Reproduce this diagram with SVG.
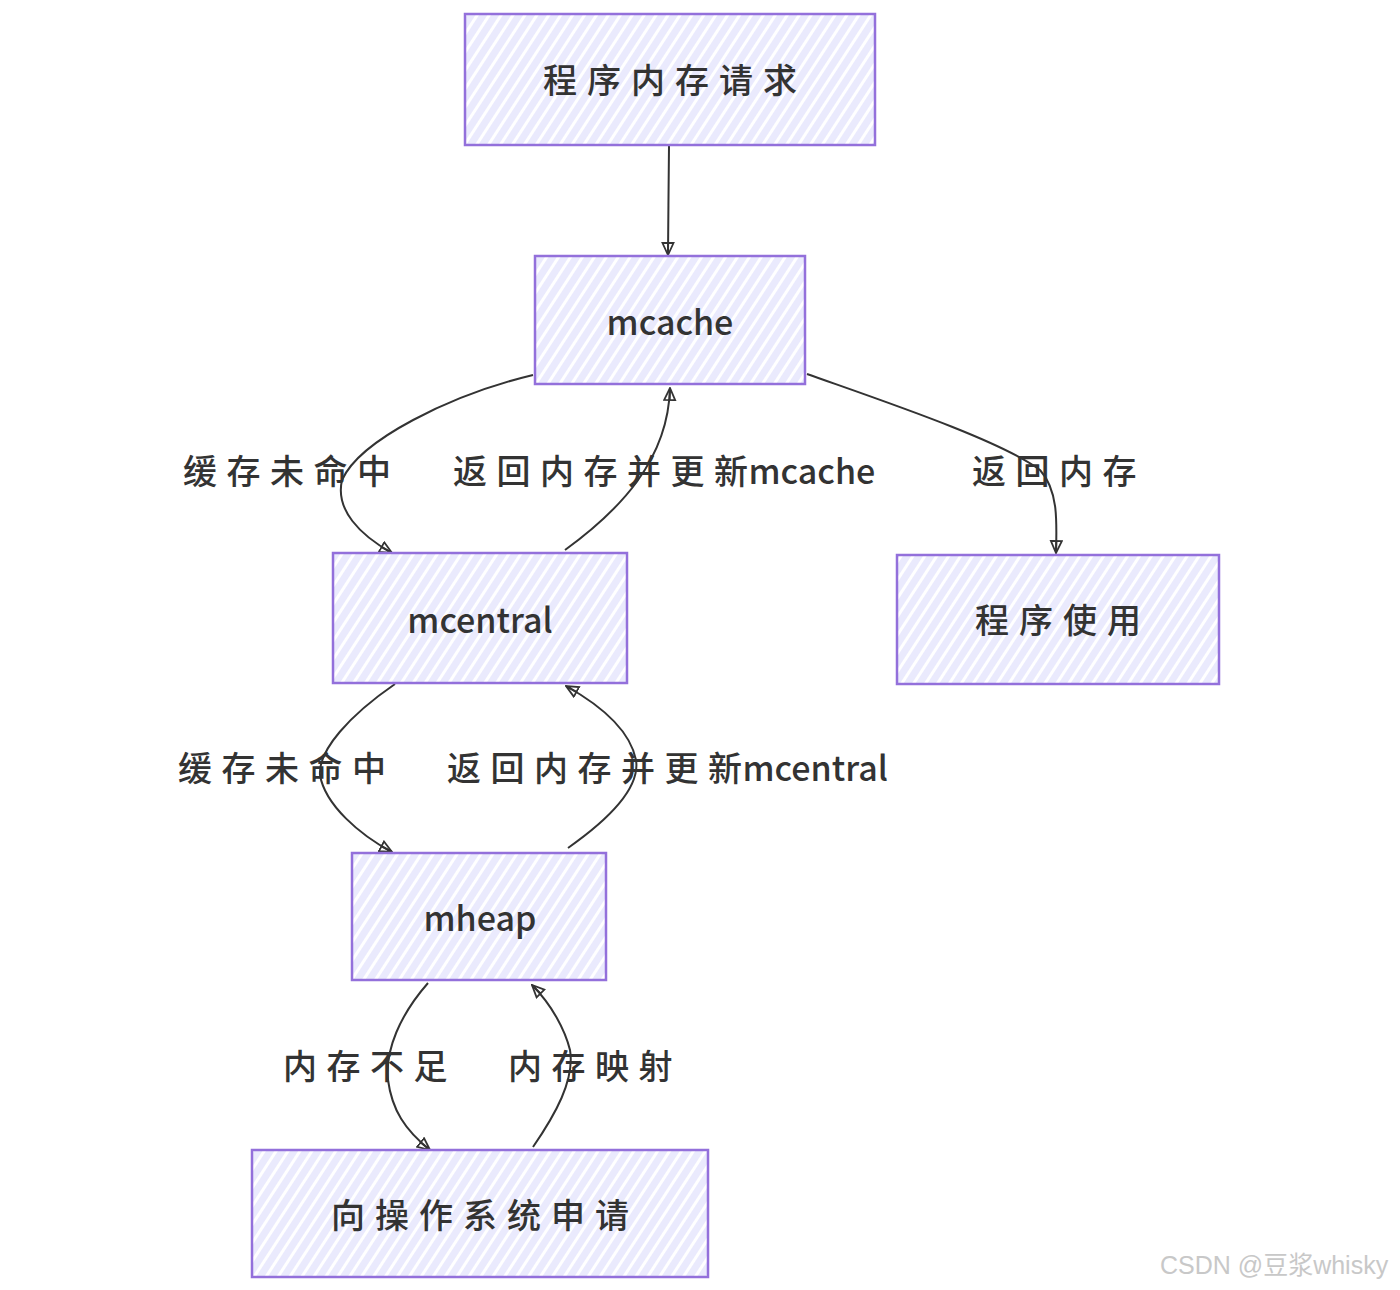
<svg xmlns="http://www.w3.org/2000/svg" width="1400" height="1290" viewBox="0 0 1400 1290">
<defs>
<pattern id="hatch" patternUnits="userSpaceOnUse" width="10" height="10" patternTransform="rotate(-57)">
<rect width="10" height="10" fill="#ffffff"/>
<rect width="10" height="7" fill="#EAEAFD"/>
</pattern>
<marker id="arr" viewBox="0 0 14 14" refX="13" refY="7" markerWidth="14" markerHeight="14" markerUnits="userSpaceOnUse" orient="auto">
<path d="M1,1.5 L13,7 L1,12.5 Z M1,7 L13,7" fill="none" stroke="#333" stroke-width="1.8"/>
</marker>
<style>
.box{fill:url(#hatch);stroke:#9370DB;stroke-width:2.5}
.nt{font-family:"Noto Sans CJK SC","Noto Sans",sans-serif;font-size:34px;font-weight:500;fill:#333;text-anchor:middle;dominant-baseline:central}
.zh{letter-spacing:10px}
.lb{font-family:"Noto Sans CJK SC","Noto Sans",sans-serif;font-size:34px;font-weight:500;fill:#333;dominant-baseline:central}
.lz{letter-spacing:9.5px}
.edge{fill:none;stroke:#333;stroke-width:2;marker-end:url(#arr)}
</style>
</defs>
<rect width="1400" height="1290" fill="#ffffff"/>
<g id="connectors">
<path class="edge" d="M669,146 C669,180 668,220 668,255"/>
<path class="edge" d="M533,375 C450,395 360,440 342,480 C335,510 360,535 392,553"/>
<path class="edge" d="M565,550 C620,510 668,460 670,388"/>
<path class="edge" d="M807,374 C880,400 1000,440 1040,470 C1058,490 1057,520 1056,553"/>
<path class="edge" d="M395,684 C350,715 318,750 320,775 C325,805 360,835 392,852"/>
<path class="edge" d="M568,848 C615,815 640,785 636,760 C630,730 600,705 566,686"/>
<path class="edge" d="M428,983 C400,1015 385,1050 388,1080 C392,1110 405,1130 430,1150"/>
<path class="edge" d="M533,1147 C555,1115 575,1080 570,1050 C565,1030 552,1005 532,985"/>
<text class="lb lz" x="183" y="469">缓存未命中</text>
<text class="lb lz" x="453" y="469">返回内存并更新<tspan letter-spacing="0" dx="-9">mcache</tspan></text>
<text class="lb lz" x="972" y="469">返回内存</text>
<text class="lb lz" x="178" y="766">缓存未命中</text>
<text class="lb lz" x="447" y="766">返回内存并更新<tspan letter-spacing="0" dx="-9">mcentral</tspan></text>
<text class="lb lz" x="283" y="1064">内存不足</text>
<text class="lb lz" x="508" y="1064">内存映射</text>
</g>
<g id="n1"><rect class="box" x="465" y="14" width="410" height="131"/><text class="nt zh" x="675" y="78">程序内存请求</text></g>
<g id="n2"><rect class="box" x="535" y="256" width="270" height="128"/><text class="nt" x="670" y="320">mcache</text></g>
<g id="n3"><rect class="box" x="333" y="553" width="294" height="130"/><text class="nt" x="480" y="618">mcentral</text></g>
<g id="n4"><rect class="box" x="897" y="555" width="322" height="129"/><text class="nt zh" x="1063" y="618">程序使用</text></g>
<g id="n5"><rect class="box" x="352" y="853" width="254" height="127"/><text class="nt" x="480" y="916">mheap</text></g>
<g id="n6"><rect class="box" x="252" y="1150" width="456" height="127"/><text class="nt zh" x="485" y="1213">向操作系统申请</text></g>
<text x="1160" y="1265" font-family="'Liberation Sans','Noto Sans CJK SC',sans-serif" font-size="25" fill="#c8c8c8" dominant-baseline="central">CSDN @豆浆whisky</text>
</svg>
